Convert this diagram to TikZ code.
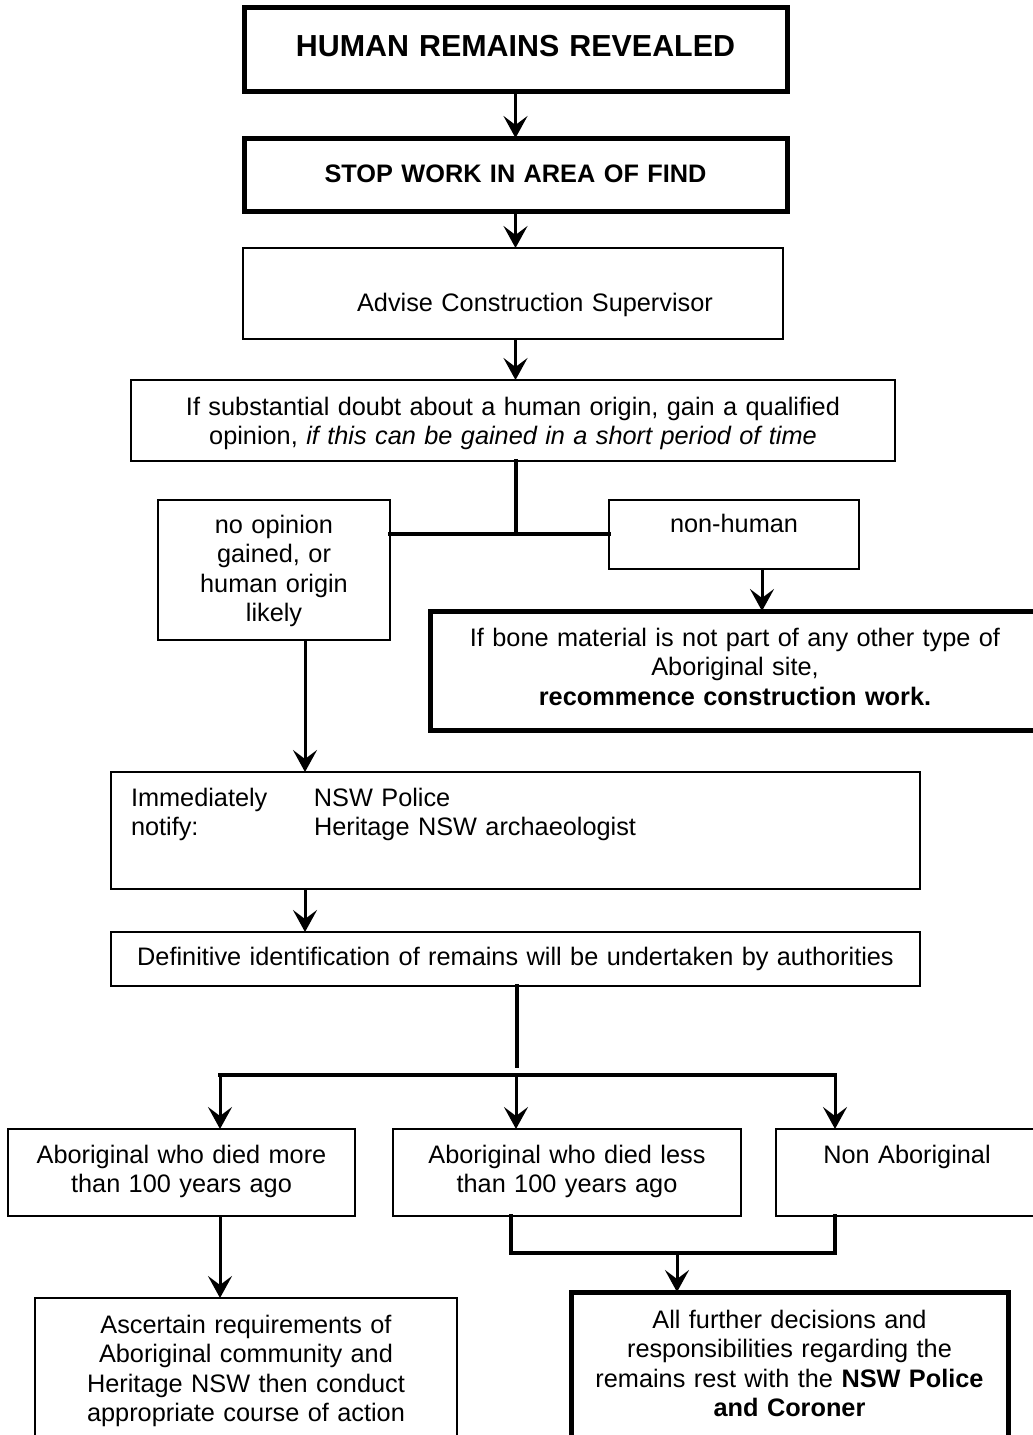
\documentclass[tikz,border=0pt]{standalone}
\usepackage{fontspec}
\setmainfont{Liberation Sans}
\usetikzlibrary{arrows.meta}
\newcommand\bodyfont{\fontsize{25.3}{29.5}\selectfont}
\newcommand\titlefont{\fontsize{30.4}{34}\selectfont\bfseries}
\newcommand\notifycol[1]{\hspace*{20pt}\makebox[183pt][l]{#1}}
\tikzset{
    every node/.style={rectangle, draw, inner sep=0pt, outer sep=0pt, anchor=north west,
        align=center, line width=1.5pt, font=\bodyfont},
    heavy/.style={line width=5pt},
    link/.style={line width=4.5pt, line cap=rect},
    flowarrow/.style={line width=3pt, -{Stealth[length=22pt, width=24pt, inset=9pt]}}
}
\begin{document}
\begin{tikzpicture}[x=1pt, y=-1pt]
    \useasboundingbox (0,0) rectangle (1033,1435);

    \node (hum) [heavy, font=\titlefont, text width=543pt, text height=49pt, text depth=35pt] at (244,7) {HUMAN REMAINS REVEALED};
    \node (stop) [heavy, font=\bodyfont\bfseries, text width=543pt, text height=44pt, text depth=29pt] at (244,138) {STOP WORK IN AREA OF FIND};
    \node (adv) [text width=540pt, text height=63pt, text depth=28pt] at (243,248) {\hspace*{44pt}Advise Construction Supervisor};
    \node (q) [text width=764pt, text height=35pt, text depth=46pt] at (131,380) {If substantial doubt about a human origin, gain a qualified\\opinion, \textit{if this can be gained in a short period of time}};

    \node (no) [text width=232pt, text height=33pt, text depth=107pt] at (158,500) {no opinion\\gained, or\\human origin\\likely};
    \node (nh) [text width=250pt, text height=32pt, text depth=37pt] at (609,500) {non-human};
    \node (bone) [heavy, text width=610pt, text height=35pt, text depth=84pt] at (430,611) {If bone material is not part of any other type of\\Aboriginal site,\\\textbf{recommence construction work.}};

    \node (imm) [align=left, text width=809pt, text height=34pt, text depth=83pt] at (111,772) {\notifycol{Immediately}NSW Police\\\notifycol{notify:}Heritage NSW archaeologist};
    \node (def) [text width=809pt, text height=33pt, text depth=21pt] at (111,932) {Definitive identification of remains will be undertaken by authorities};

    \node (more) [text width=347pt, text height=34pt, text depth=53pt] at (8,1129) {Aboriginal who died more\\than 100 years ago};
    \node (less) [text width=348pt, text height=34pt, text depth=53pt] at (393,1129) {Aboriginal who died less\\than 100 years ago};
    \node (non) [text width=262pt, text height=34pt, text depth=53pt] at (776,1129) {Non Aboriginal};

    \node (asc) [text width=422pt, text height=35pt, text depth=112pt] at (35,1298) {Ascertain requirements of\\Aboriginal community and\\Heritage NSW then conduct\\appropriate course of action};
    \node (fur) [heavy, text width=437pt, text height=36pt, text depth=117pt] at (571,1292) {All further decisions and\\responsibilities regarding the\\remains rest with the \textbf{NSW Police}\\\textbf{and Coroner}};

    % branch points
    \coordinate (qsplit) at (516,534);
    \coordinate (nhdrop) at (762,0);
    \coordinate (nodrop) at (305,0);
    \coordinate (dsplit) at (517,1066);
    \coordinate (barl) at (220,1075);
    \coordinate (barm) at (516,1075);
    \coordinate (barr) at (835,1075);
    \coordinate (lessdrop) at (511,0);
    \coordinate (lowbar) at (0,1253);
    \coordinate (furdrop) at (677,0);

    \draw[flowarrow] (hum.south) -- (stop.north);
    \draw[flowarrow] (stop.south) -- (stop.south |- adv.north);
    \draw[flowarrow] (adv.south -| stop.south) -- (q.north -| stop.south);

    \draw[link] (q.south -| qsplit) -- (qsplit);
    \draw[link] (no.east |- qsplit) -- (nh.west |- qsplit);
    \draw[flowarrow] (nh.south -| nhdrop) -- (bone.north -| nhdrop);
    \draw[flowarrow] (no.south -| nodrop) -- (imm.north -| nodrop);
    \draw[flowarrow] (imm.south -| nodrop) -- (def.north -| nodrop);

    \draw[link] (def.south -| dsplit) -- (dsplit);
    \draw[link] (barl) -- (barr);
    \draw[flowarrow] (barl) -- (more.north -| barl);
    \draw[flowarrow] (barm) -- (less.north -| barm);
    \draw[flowarrow] (barr) -- (non.north -| barr);

    \draw[flowarrow] (more.south -| barl) -- (asc.north -| barl);
    \draw[link] (less.south -| lessdrop) |- (lowbar -| barr) -- (non.south -| barr);
    \draw[flowarrow] (lowbar -| furdrop) -- (fur.north -| furdrop);
\end{tikzpicture}
\end{document}
